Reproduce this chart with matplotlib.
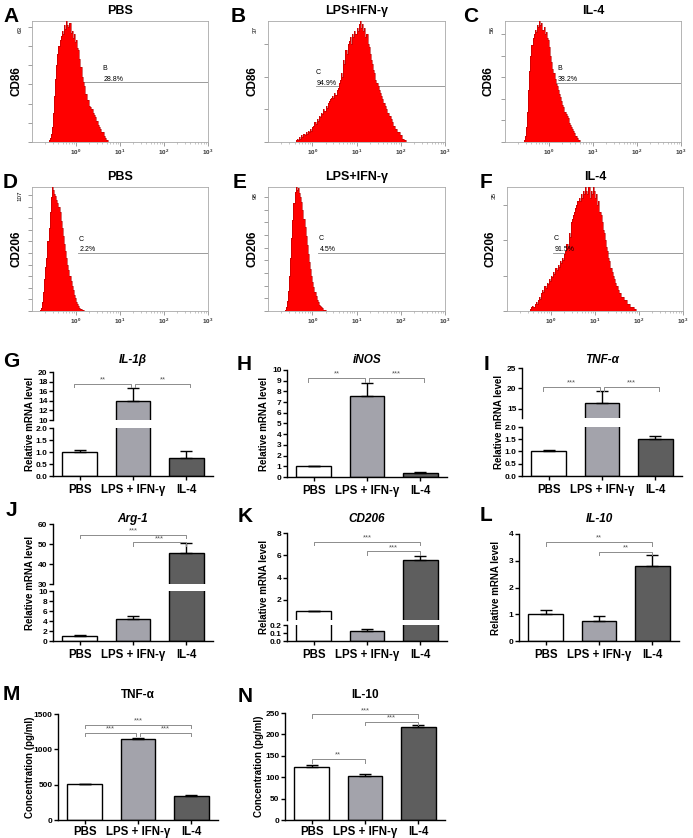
import numpy as np
import matplotlib
matplotlib.use("Agg")
import matplotlib.pyplot as plt
from matplotlib.ticker import LogLocator, NullFormatter

plt.rcParams['font.family'] = ['Liberation Sans', 'DejaVu Sans']
plt.rcParams['font.weight'] = 'bold'
plt.rcParams['mathtext.default'] = 'regular'

# ---------------- data ----------------
groups = ['PBS', 'LPS + IFN-γ', 'IL-4']
flow_titles = ['PBS', 'LPS+IFN-γ', 'IL-4']

# flow histograms: counts per log10 bin (bin width 0.025 decades), first edge in log10
cd86_pbs_start = -0.65
cd86_pbs = [0, 1, 2, 4, 8, 15, 24, 33, 40, 46, 50, 53, 55, 58, 56, 61, 59, 63, 61, 60,
            62, 57, 58, 54, 56, 52, 53, 49, 48, 43, 39, 34, 31, 29, 25, 25, 22, 22, 19, 18,
            17, 15, 14, 13, 11, 11, 9, 8, 7, 5, 5, 3, 2, 1, 1, 0]
cd86_lps_start = -0.4
cd86_lps = [0, 0.5, 1, 0.5, 1.5, 1, 2, 1.5, 2.5, 2, 3, 2.5, 3.5, 3, 4, 3.5,
            4.5, 5, 6, 5.5, 7, 6.5, 8, 7.5, 9, 8.5, 10, 9.5, 11, 10.5, 12, 12.5,
            13, 13.5, 14, 13.5, 15, 14.5, 16, 16.5,
            18, 19, 21, 20, 25, 24, 28, 27,
            30, 31, 32, 30, 33, 32, 34, 33, 35, 34, 36, 37,
            35, 36, 34, 35, 32, 33, 30, 29,
            27, 25, 24, 22, 21, 19, 18, 17,
            16, 15, 14, 13, 12, 12, 11, 10,
            9, 8, 8, 7, 6, 5, 5, 4,
            4, 3, 3, 2, 2, 1, 1, 0.5, 0.5, 0]
cd86_il4_start = -0.6
cd86_il4 = [0, 1, 3, 7, 14, 24, 33, 40, 45, 48, 50, 52, 51, 54, 53, 56, 54, 55, 52, 53,
            50, 51, 48, 47, 44, 40, 37, 34, 32, 29, 27, 26, 24, 22, 21, 19, 17, 16, 14, 13,
            12, 11, 9, 8, 7, 6, 5, 4, 3, 2, 1, 1, 0]
cd206_pbs_start = -0.85
cd206_pbs = [0, 1, 3, 8, 16, 28, 38, 46, 60, 72, 85, 98, 107, 104, 101, 99, 96, 93, 90, 85,
             78, 72, 65, 58, 52, 46, 40, 35, 30, 26, 22, 18, 14, 11, 8, 6, 4, 3, 2, 1, 1, 0]
cd206_lps_start = -0.65
cd206_lps = [0, 1, 3, 8, 16, 28, 42, 58, 72, 85, 94, 98, 96, 97, 93, 90, 86, 80, 73, 66,
             59, 52, 45, 39, 33, 28, 23, 19, 15, 12, 9, 7, 5, 4, 3, 2, 1, 1, 0]
cd206_il4_start = -0.5
cd206_il4 = [0, 0.5, 1, 1.5, 1, 2, 2.5, 2,
             3, 4, 3.5, 5, 6, 5.5, 7, 6.5,
             8, 7.5, 9, 8.5, 10, 9.5, 11, 10.5,
             12, 11.5, 13, 12.5, 14, 13.5, 15, 14.5,
             16, 17, 19, 18, 22, 21, 25, 26,
             27, 28, 29, 30, 31, 32, 31, 33,
             32, 34, 33, 35, 34, 33, 35, 32,
             34, 33, 35, 34, 32, 33, 30, 31,
             28, 27, 25, 23, 22, 20, 18, 17,
             15, 14, 12, 11, 10, 9, 8, 7,
             7, 6, 5, 5, 4, 4, 3, 3,
             3, 2, 2, 2, 1, 1, 1, 0.5, 0.5, 0]
flow_ymax = [63, 37, 56, 107, 98, 35]
gate_names = ['B', 'C', 'B', 'C', 'C', 'C']
gate_pct = ['28.8%', '94.9%', '38.2%', '2.2%', '4.5%', '91.5%']
gate_level = [31, 17, 27.5, 50, 46, 16.4]
gate_start = [0.0, 0.08, 0.0, 0.05, 0.14, 0.05]
gate_label = [0.61, 0.08, 0.18, 0.05, 0.14, 0.05]

# qPCR / ELISA means and upper SEM
il1b_mean, il1b_err = [1.0, 13.9, 0.75], [0.07, 2.7, 0.28]
inos_mean, inos_err = [1.0, 7.6, 0.38], [0.07, 1.2, 0.06]
tnfa_mean, tnfa_err = [1.0, 16.5, 1.5], [0.08, 2.8, 0.15]
arg1_mean, arg1_err = [1.0, 4.4, 45.7], [0.15, 0.7, 5.0]
cd206_mean, cd206_err = [1.0, 0.13, 5.6], [0.03, 0.02, 0.35]
il10_mean, il10_err = [1.0, 0.75, 2.8], [0.15, 0.17, 0.42]
tnfa_elisa, tnfa_elisa_err = [505, 1140, 345], [10, 22, 12]
il10_elisa, il10_elisa_err = [125, 103, 218], [3, 4, 3]

# significance brackets: (x from, x to, y, stars)
il1b_sig = [(-0.1, 0.96, 17.5, '**'), (1.04, 2.07, 17.5, '**')]
inos_sig = [(-0.1, 0.96, 9.25, '**'), (1.04, 2.07, 9.25, '***')]
tnfa_sig = [(-0.1, 0.96, 20.3, '***'), (1.04, 2.07, 20.3, '***')]
arg1_sig = [(0.0, 2.0, 54.7, '***'), (1.0, 2.0, 50.8, '***')]
cd206_sig = [(0.0, 2.0, 7.2, '***'), (1.0, 2.0, 6.35, '***')]
il10_sig = [(0.0, 2.0, 3.7, '**'), (1.0, 2.0, 3.34, '**')]
tnfa_elisa_sig = [(0.0, 2.0, 1345, '***'), (0.0, 0.97, 1232, '***'), (1.03, 2.0, 1232, '***')]
il10_elisa_sig = [(0.0, 2.0, 247, '***'), (1.0, 2.0, 229, '***'), (0.0, 1.0, 142, '**')]

# ---------------- figure ----------------
W, H = 693, 838
fig = plt.figure(figsize=(W / 100, H / 100), dpi=100)


def px_axes(x0, y0, x1, y1):
    return fig.add_axes([x0 / W, 1 - y1 / H, (x1 - x0) / W, (y1 - y0) / H])


def fig_text(x, y, s, **kw):
    fig.text(x / W, 1 - y / H, s, **kw)


# flow cytometry histograms
hists = [(cd86_pbs_start, cd86_pbs), (cd86_lps_start, cd86_lps), (cd86_il4_start, cd86_il4),
         (cd206_pbs_start, cd206_pbs), (cd206_lps_start, cd206_lps), (cd206_il4_start, cd206_il4)]
flow_boxes = [(32, 21, 208, 142), (268, 21, 445, 142), (505, 21, 681, 142),
              (32, 187, 208, 311), (268, 187, 445, 311), (507, 187, 683, 311)]
flow_letters = [('A', 3, 22), ('B', 231, 22), ('C', 463, 22),
                ('D', 3, 188), ('E', 233, 188), ('F', 480, 188)]
step = 0.025

for k, ((start, counts), box) in enumerate(zip(hists, flow_boxes)):
    ax = px_axes(*box)
    edges = 10 ** (start + step * np.arange(len(counts) + 1))
    ax.stairs(counts, edges, fill=True, color='#ff0000', zorder=3)
    ax.stairs(counts, edges, color='#b00000', lw=0.4, zorder=3)
    ymax = flow_ymax[k]
    ax.set_xscale('log')
    ax.set_xlim(0.1, 1000)
    ax.set_ylim(0, ymax * 1.0)
    ax.plot([10 ** gate_start[k], 1000], [gate_level[k]] * 2, color='#8a8a8a', lw=0.6, zorder=2)
    ax.text(10 ** gate_label[k], gate_level[k] + ymax * 0.1, gate_names[k], fontsize=5,
            fontweight='normal', zorder=4)
    ax.text(10 ** gate_label[k] * 1.05, gate_level[k] + ymax * 0.015, gate_pct[k], fontsize=5,
            fontweight='normal', zorder=4)
    for s in ax.spines.values():
        s.set_color('#a8a8a8')
        s.set_linewidth(0.6)
    ax.set_xticks([1, 10, 100, 1000])
    ax.set_xticklabels(['$10^0$', '$10^1$', '$10^2$', '$10^3$'])
    ax.xaxis.set_minor_locator(LogLocator(base=10, subs=np.arange(2, 10)))
    ax.xaxis.set_minor_formatter(NullFormatter())
    ax.tick_params(axis='x', which='major', length=3, width=0.5, labelsize=4.5, pad=1,
                   color='#777777', labelcolor='#333333')
    ax.tick_params(axis='x', which='minor', length=1.5, width=0.4, color='#999999')
    ax.set_yticks(np.arange(0, ymax, 10))
    ax.set_yticklabels([])
    ax.tick_params(axis='y', length=3, width=0.5, color='#777777')
    ax.text(-0.07, 0.93, str(ymax), rotation=90, fontsize=4.5, fontweight='normal',
            transform=ax.transAxes, ha='center', va='center')
    x0, y0, x1, y1 = box
    fig_text((x0 + x1) / 2, y0 - 10, flow_titles[k % 3], fontsize=9, ha='center', va='center')
    fig_text(x0 - 16, (y0 + y1) / 2, 'CD86' if k < 3 else 'CD206', fontsize=8.5,
             rotation=90, ha='center', va='center')

for letter, x, y in flow_letters:
    fig_text(x, y, letter, fontsize=15, ha='left', va='baseline')

# bar charts
bar_colors = ['white', '#a3a3ab', '#5e5e5e']


def bar_panel(x0, segs, means, errs, sig, title, ylabel, title_y, italic=True, ylab_off=23,
              lab_pad=2.5):
    axes = []
    for n, (ya, yb, lim, ticks, fmt) in enumerate(segs):
        ax = px_axes(x0, ya, x0 + 160, yb)
        ax.bar(range(3), means, width=0.65, color=bar_colors, edgecolor='black', linewidth=1.0,
               zorder=2)
        # only draw error bars whose cap falls inside this segment
        vis = [i for i in range(3) if lim[0] < means[i] + errs[i] <= lim[1] * 1.05]
        if vis:
            ax.errorbar(vis, [means[i] for i in vis],
                        yerr=[[0] * len(vis), [errs[i] for i in vis]], fmt='none',
                        ecolor='black', elinewidth=1.0, capsize=4, capthick=1.0, zorder=3)
        ax.set_xlim(-0.5, 2.5)
        ax.set_ylim(*lim)
        ax.set_yticks(ticks)
        ax.set_yticklabels([fmt.format(t) for t in ticks])
        ax.spines['top'].set_visible(False)
        ax.spines['right'].set_visible(False)
        ax.spines['left'].set_linewidth(1.0)
        ax.tick_params(axis='y', length=3, width=1.0, labelsize=6, pad=1)
        if n < len(segs) - 1:
            ax.spines['bottom'].set_visible(False)
            ax.set_xticks([])
        else:
            ax.spines['bottom'].set_linewidth(1.0)
            ax.set_xticks(range(3))
            ax.set_xticklabels(groups)
            ax.tick_params(axis='x', length=3, width=1.0, labelsize=8.3, pad=lab_pad)
        axes.append(ax)
    top = axes[0]
    ya, yb, lim = segs[0][0], segs[0][1], segs[0][2]
    dy = 3.5 / (yb - ya) * (lim[1] - lim[0])
    for xa, xb, y, stars in sig:
        top.plot([xa, xa, xb, xb], [y - dy, y, y, y - dy], color='#8c8c8c', lw=0.7,
                 clip_on=False, zorder=4)
        top.text((xa + xb) / 2, y + dy * 0.1, stars, fontsize=5.5, ha='center', va='bottom',
                 color='#555555', fontweight='normal')
    fig_text(x0 + 80, title_y, title, fontsize=8.5, ha='center', va='center',
             style='italic' if italic else 'normal')
    fig_text(x0 - ylab_off, (segs[0][0] + segs[-1][1]) / 2, ylabel, fontsize=7, rotation=90,
             ha='center', va='center')


mrna = 'Relative mRNA level'
conc = 'Concentration (pg/ml)'
bar_panel(53, [(372, 420, (10, 20), [10, 12, 14, 16, 18, 20], '{:.0f}'),
               (428, 476, (0, 2), [0, 0.5, 1, 1.5, 2], '{:.1f}')],
          il1b_mean, il1b_err, il1b_sig, 'IL-1β', mrna, 360)
bar_panel(287, [(370, 477, (0, 10), list(range(11)), '{:.0f}')],
          inos_mean, inos_err, inos_sig, 'iNOS', mrna, 360)
bar_panel(522, [(368, 418, (12.7, 25), [15, 20, 25], '{:.0f}'),
                (427, 476, (0, 2), [0, 0.5, 1, 1.5, 2], '{:.1f}')],
          tnfa_mean, tnfa_err, tnfa_sig, 'TNF-α', mrna, 360)
bar_panel(53, [(524, 584, (30, 60), [30, 40, 50, 60], '{:.0f}'),
               (591, 641, (0, 10), [0, 2, 4, 6, 8, 10], '{:.0f}')],
          arg1_mean, arg1_err, arg1_sig, 'Arg-1', mrna, 519)
bar_panel(287, [(533, 620, (0.2, 8), [2, 4, 6, 8], '{:.0f}'),
                (625, 641, (0, 0.2), [0, 0.1, 0.2], '{:.1f}')],
          cd206_mean, cd206_err, cd206_sig, 'CD206', mrna, 519)
bar_panel(519, [(534, 641, (0, 4), [0, 1, 2, 3, 4], '{:.0f}')],
          il10_mean, il10_err, il10_sig, 'IL-10', mrna, 519)
bar_panel(58, [(714, 820, (0, 1500), [0, 500, 1000, 1500], '{:.0f}')],
          tnfa_elisa, tnfa_elisa_err, tnfa_elisa_sig, 'TNF-α', conc, 695, italic=False,
          ylab_off=28, lab_pad=1.2)
bar_panel(285, [(713, 820, (0, 250), [0, 50, 100, 150, 200, 250], '{:.0f}')],
          il10_elisa, il10_elisa_err, il10_elisa_sig, 'IL-10', conc, 695, italic=False,
          ylab_off=26, lab_pad=1.2)

bar_letters = [('G', 3, 367), ('H', 237, 370), ('I', 484, 370),
               ('J', 6, 516), ('K', 238, 522), ('L', 480, 521),
               ('M', 3, 700), ('N', 238, 702)]
for letter, x, y in bar_letters:
    fig_text(x, y, letter, fontsize=15, ha='left', va='baseline')

fig.savefig('out.png', dpi=100)
